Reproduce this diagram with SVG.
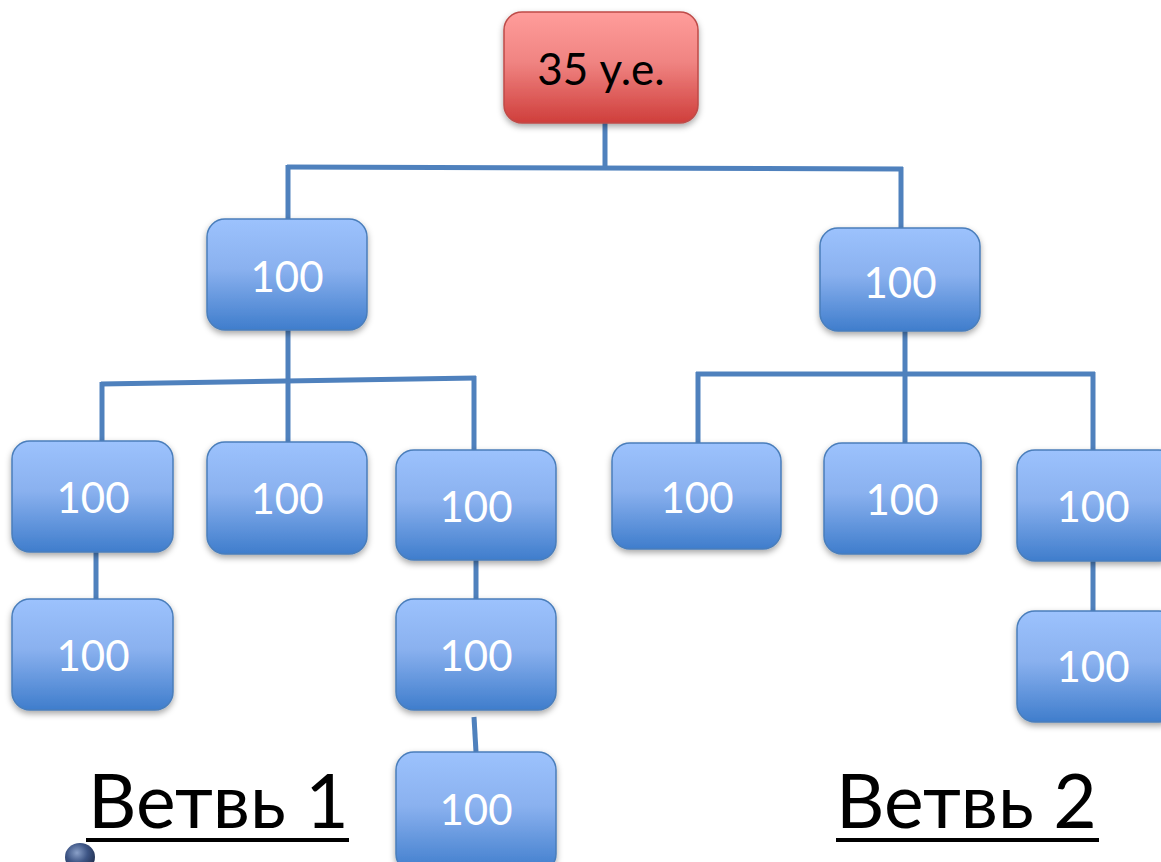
<svg xmlns="http://www.w3.org/2000/svg" width="1161" height="862" viewBox="0 0 1161 862">
<style>
.conn{stroke:#4f81bd;stroke-width:5;fill:none;stroke-linecap:butt}
.b{fill:url(#gb);stroke:#4a7ebb;stroke-width:1.5;filter:url(#sh)}
.r{fill:url(#gr);stroke:#be4b48;stroke-width:1.5;filter:url(#sh)}
.t{font-family:Lato,"Open Sans",sans-serif;font-size:42px;fill:#fff;text-anchor:middle}
.tk{font-family:Lato,"Open Sans",sans-serif;font-size:44px;fill:#000;text-anchor:middle}
.lbl{font-family:Lato,"Open Sans",sans-serif;font-size:75px;fill:#000}
</style>
<defs>
<linearGradient id="gb" x1="0" y1="0" x2="0" y2="1">
<stop offset="0" stop-color="#9cc2fd"/>
<stop offset="0.45" stop-color="#8ab1ef"/>
<stop offset="1" stop-color="#3f7dcc"/>
</linearGradient>
<linearGradient id="gr" x1="0" y1="0" x2="0" y2="1">
<stop offset="0" stop-color="#ff9d9b"/>
<stop offset="0.45" stop-color="#f08482"/>
<stop offset="1" stop-color="#cf3e3b"/>
</linearGradient>
<radialGradient id="berry" cx="0.4" cy="0.35" r="0.7">
<stop offset="0" stop-color="#8aa0c8"/>
<stop offset="0.5" stop-color="#3e5686"/>
<stop offset="1" stop-color="#1f2c4c"/>
</radialGradient>
<filter id="sh" x="-10%" y="-10%" width="130%" height="130%">
<feDropShadow dx="0" dy="3" stdDeviation="3" flood-color="#000" flood-opacity="0.35"/>
</filter>
</defs>
<g id="connectors">
<line class="conn" x1="605" y1="123" x2="605" y2="168"/>
<line class="conn" x1="287" y1="167" x2="903" y2="169"/>
<line class="conn" x1="288" y1="165" x2="288" y2="219"/>
<line class="conn" x1="901" y1="167" x2="901" y2="228"/>
<line class="conn" x1="288" y1="330" x2="288" y2="442"/>
<line class="conn" x1="101" y1="384" x2="476" y2="378"/>
<line class="conn" x1="102" y1="382" x2="102" y2="441"/>
<line class="conn" x1="474" y1="376" x2="474" y2="450"/>
<line class="conn" x1="905" y1="331" x2="905" y2="443"/>
<line class="conn" x1="696" y1="374" x2="1095" y2="374"/>
<line class="conn" x1="698" y1="372" x2="698" y2="443"/>
<line class="conn" x1="1093" y1="372" x2="1093" y2="450"/>
<line class="conn" x1="96" y1="552" x2="96" y2="599"/>
<line class="conn" x1="476" y1="560" x2="476" y2="599"/>
<line class="conn" x1="474" y1="717" x2="476" y2="752"/>
<line class="conn" x1="1093" y1="561" x2="1093" y2="611"/>
</g>
<g id="root">
<rect class="r" x="504" y="12" width="194" height="111" rx="18"/>
<text class="tk" x="601" y="85">35 у.е.</text>
</g>
<g id="n-l1">
<rect class="b" x="207" y="219" width="160" height="111" rx="18"/>
<text class="t" x="287" y="292">100</text>
</g>
<g id="n-r1">
<rect class="b" x="820" y="228" width="160" height="103" rx="18"/>
<text class="t" x="900" y="298">100</text>
</g>
<g id="n-a">
<rect class="b" x="12" y="441" width="161" height="111" rx="18"/>
<text class="t" x="93" y="513">100</text>
</g>
<g id="n-b">
<rect class="b" x="207" y="442" width="160" height="112" rx="18"/>
<text class="t" x="287" y="514">100</text>
</g>
<g id="n-c">
<rect class="b" x="396" y="450" width="160" height="110" rx="18"/>
<text class="t" x="476" y="522">100</text>
</g>
<g id="n-d">
<rect class="b" x="612" y="443" width="169" height="106" rx="18"/>
<text class="t" x="697" y="513">100</text>
</g>
<g id="n-e">
<rect class="b" x="824" y="443" width="157" height="111" rx="18"/>
<text class="t" x="902" y="515">100</text>
</g>
<g id="n-f">
<rect class="b" x="1017" y="450" width="160" height="111" rx="18"/>
<text class="t" x="1093" y="522">100</text>
</g>
<g id="n-g">
<rect class="b" x="12" y="599" width="161" height="111" rx="18"/>
<text class="t" x="93" y="671">100</text>
</g>
<g id="n-h">
<rect class="b" x="396" y="599" width="160" height="111" rx="18"/>
<text class="t" x="476" y="671">100</text>
</g>
<g id="n-i">
<rect class="b" x="1017" y="611" width="160" height="111" rx="18"/>
<text class="t" x="1093" y="682">100</text>
</g>
<g id="n-j">
<rect class="b" x="396" y="752" width="160" height="120" rx="18"/>
<text class="t" x="476" y="825">100</text>
</g>
<g id="label-1">
<text class="lbl" x="88" y="828">Ветвь 1</text>
<rect x="86" y="838" width="263" height="4" fill="#000"/>
</g>
<g id="label-2">
<text class="lbl" x="836" y="828">Ветвь 2</text>
<rect x="836" y="838" width="263" height="4" fill="#000"/>
</g>
<g id="berry">
<ellipse cx="80" cy="857" rx="15" ry="14" fill="url(#berry)"/>
</g>
</svg>
